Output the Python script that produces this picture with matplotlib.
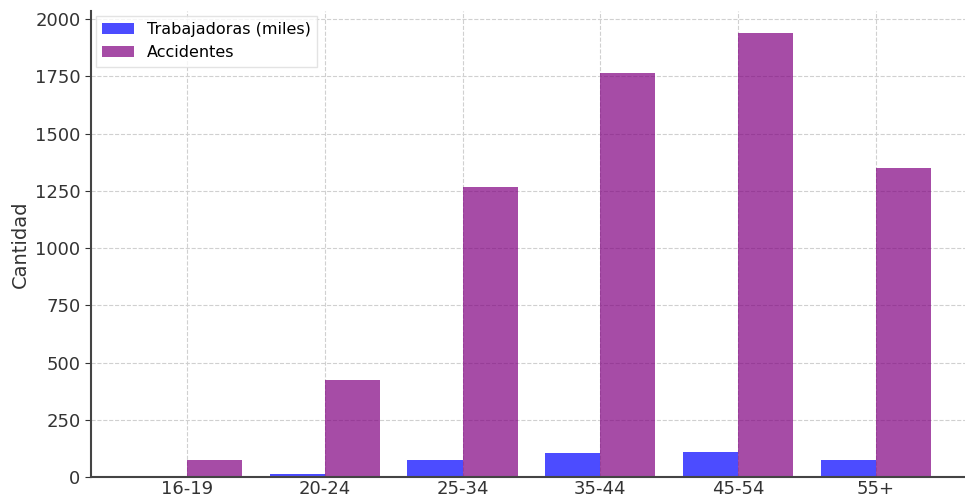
import numpy as np
import matplotlib.pyplot as plt

# age groups and values
grupos = ['16-19', '20-24', '25-34', '35-44', '45-54', '55+']
trabajadoras = [0, 14, 74, 103, 109, 74]
accidentes = [75, 425, 1265, 1765, 1940, 1350]

##########################  FIGURE  ##########################################

fig = plt.figure(figsize=(9.65, 5), dpi=100)
ax = fig.add_axes([91 / 965, 23 / 500, 880 / 965, 466 / 500])

x = np.arange(len(grupos))
width = 0.4
ax.bar(x - width / 2, trabajadoras, width, color='blue', alpha=0.7,
       label='Trabajadoras (miles)')
ax.bar(x + width / 2, accidentes, width, color='purple', alpha=0.7,
       label='Accidentes')

ax.set_xticks(x)
ax.set_xticklabels(grupos, fontsize=13, color='#333333')
ax.set_yticks([0, 250, 500, 750, 1000, 1250, 1500, 1750, 2000])
ax.tick_params(axis='y', labelsize=13, colors='#333333', length=4)
ax.tick_params(axis='x', length=0, pad=2.5)
ax.set_ylabel('Cantidad', fontsize=14, color='#333333')
ax.set_xlim(-0.697, 5.69)
ax.set_ylim(0, 2035)

ax.grid(True, linestyle='--', color='#d0d0d0', linewidth=0.8)
ax.set_axisbelow(True)
for side in ['top', 'right']:
    ax.spines[side].set_visible(False)
for side in ['left', 'bottom']:
    ax.spines[side].set_color('#444444')
    ax.spines[side].set_linewidth(1.5)

ax.legend(loc='upper left', fontsize=11.5, framealpha=0.8, edgecolor='#dddddd',
          fancybox=False, borderaxespad=0.3)

plt.savefig('out.png', dpi=100)
plt.close()
